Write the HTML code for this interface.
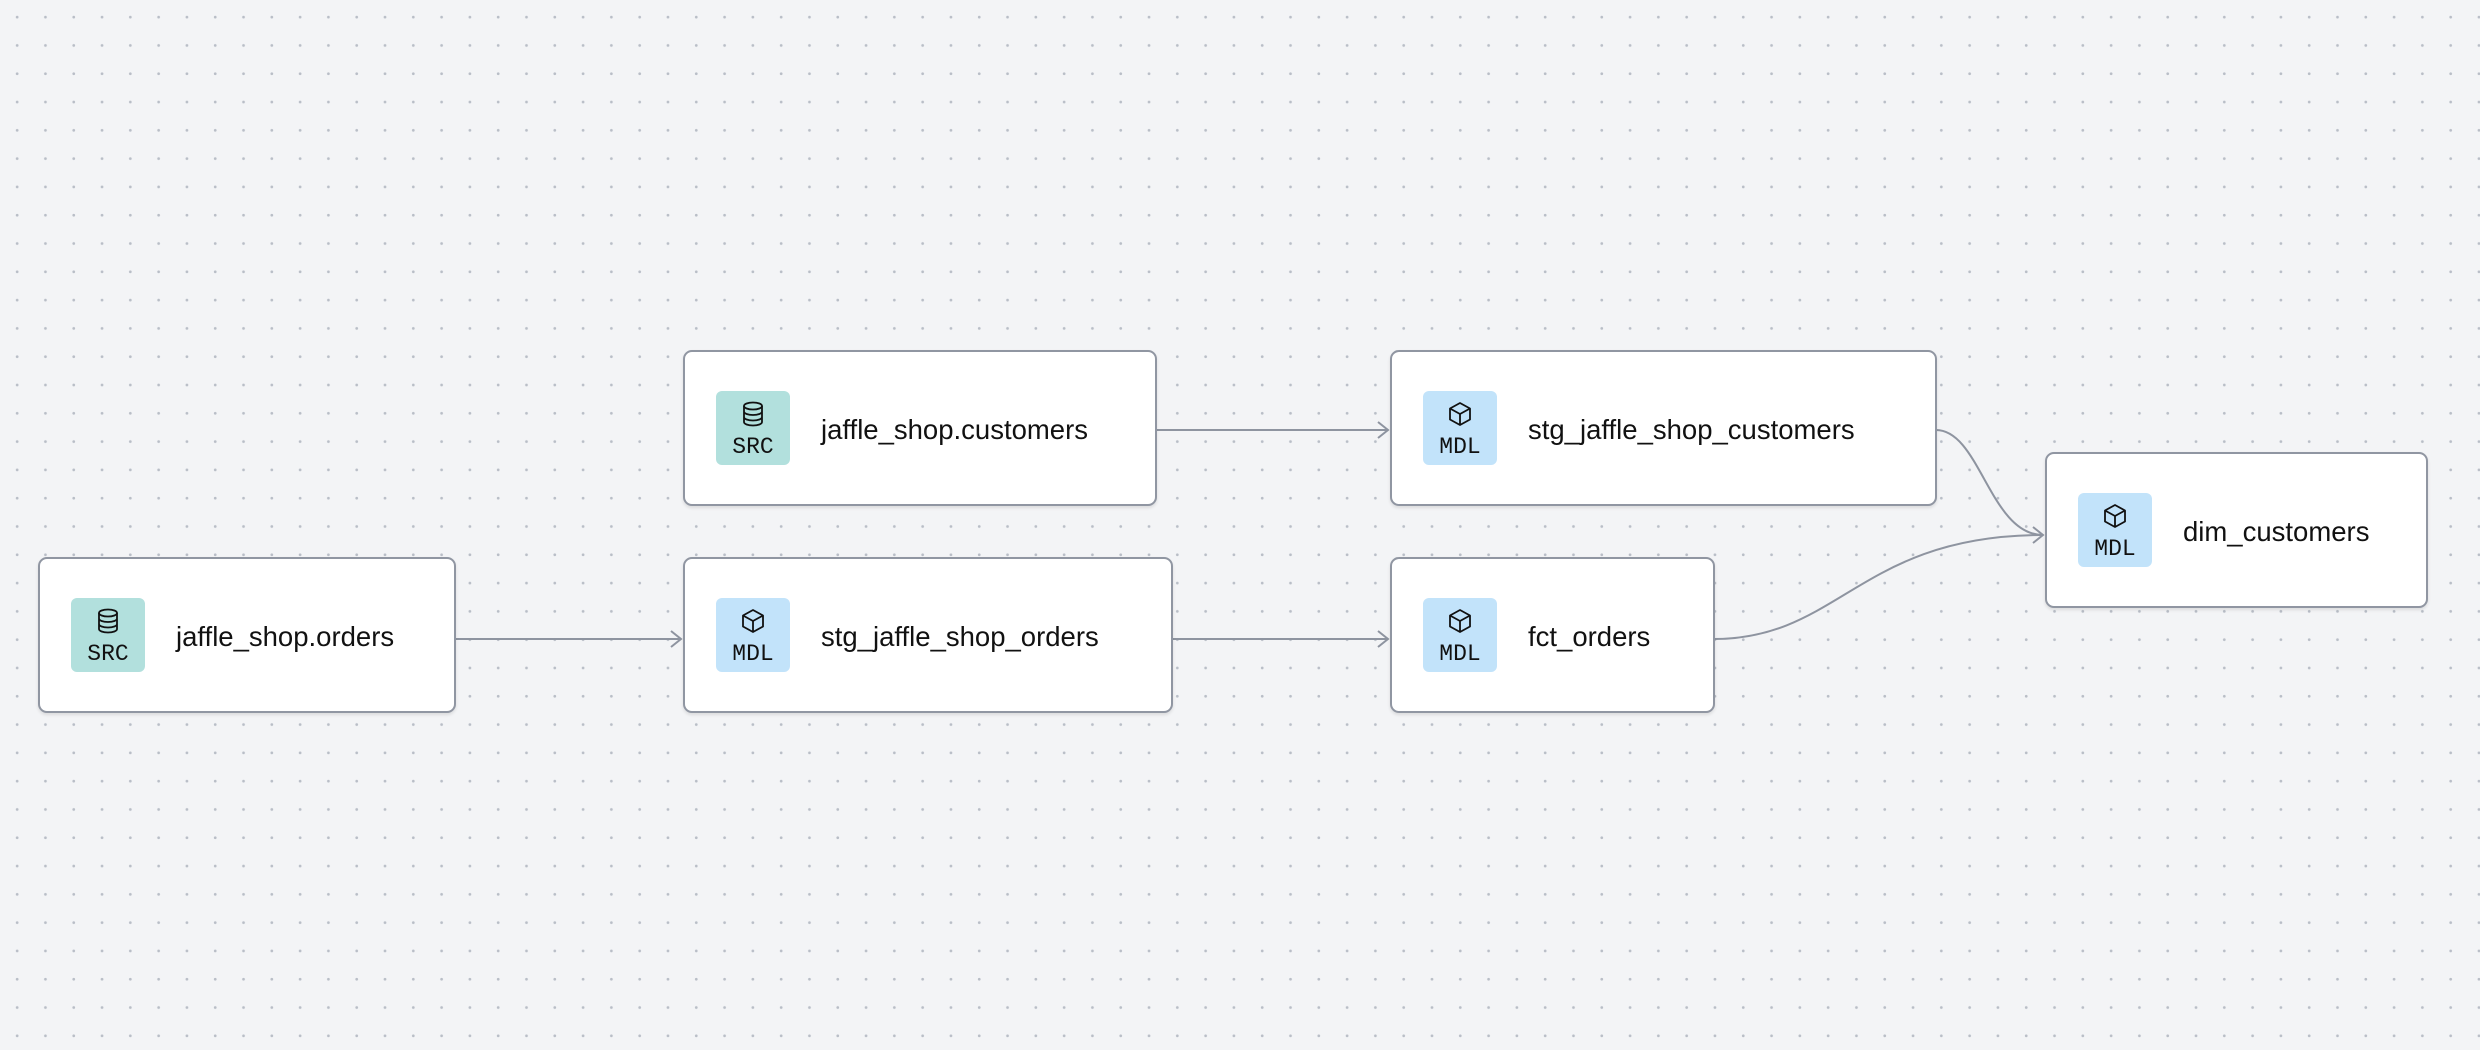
<!DOCTYPE html>
<html><head><meta charset="utf-8"><style>
html,body{margin:0;padding:0}
body{width:2480px;height:1050px;position:relative;overflow:hidden;background-color:#f3f4f6;
background-image:radial-gradient(circle,#b9bec7 1.2px,transparent 1.6px);background-size:28.3px 28.3px;background-position:3px 3px;font-family:"Liberation Sans",sans-serif}
.n{position:absolute;height:156px;background:#fff;border:2px solid #9096a2;border-radius:9px;box-shadow:0 2px 3px rgba(0,0,0,0.1);box-sizing:border-box}
.b{position:absolute;left:31px;top:39px;width:74px;height:74px;border-radius:6px}
.src{background:#b2e0dd}.mdl{background:#c2e3fa}
.b svg{position:absolute;left:25px;top:10px}
.b span{position:absolute;left:0;right:0;top:43px;text-align:center;font-family:"Liberation Mono",monospace;font-size:23px;color:#111}
.l{position:absolute;left:136px;top:2px;line-height:151px;font-size:27.5px;color:#111}
svg.e{position:absolute;left:0;top:0}
</style></head><body>
<svg class="e" width="2480" height="1050"><g fill="none" stroke="#8e94a0" stroke-width="2">
<path d="M1156 430 H1388"/><path d="M1378 422 L1388 430 L1378 438"/>
<path d="M455 639 H681"/><path d="M671 631 L681 639 L671 647"/>
<path d="M1172 639 H1388"/><path d="M1378 631 L1388 639 L1378 647"/>
<path d="M1936 430 C1980 430,1990 535,2043 535"/>
<path d="M1714 639 C1840 639,1860 535,2043 535"/>
<path d="M2033 527 L2043 535 L2033 543"/>
</g></svg>
<div class="n" style="left:38px;top:557px;width:418px"><div class="b src"><svg width="24" height="26" viewBox="0 0 24 26" fill="none" stroke="#111" stroke-width="1.8"><ellipse cx="12" cy="5" rx="9" ry="3.5"/><path d="M3 5v16c0 2 4 3.5 9 3.5s9-1.5 9-3.5V5M3 10.5c0 2 4 3.5 9 3.5s9-1.5 9-3.5M3 16c0 2 4 3.5 9 3.5s9-1.5 9-3.5"/></svg><span>SRC</span></div><div class="l">jaffle_shop.orders</div></div>
<div class="n" style="left:683px;top:350px;width:474px"><div class="b src"><svg width="24" height="26" viewBox="0 0 24 26" fill="none" stroke="#111" stroke-width="1.8"><ellipse cx="12" cy="5" rx="9" ry="3.5"/><path d="M3 5v16c0 2 4 3.5 9 3.5s9-1.5 9-3.5V5M3 10.5c0 2 4 3.5 9 3.5s9-1.5 9-3.5M3 16c0 2 4 3.5 9 3.5s9-1.5 9-3.5"/></svg><span>SRC</span></div><div class="l">jaffle_shop.customers</div></div>
<div class="n" style="left:683px;top:557px;width:490px"><div class="b mdl"><svg width="24" height="26" viewBox="0 0 24 26" fill="none" stroke="#111" stroke-width="1.8" stroke-linejoin="round"><path d="M12 2L22 7.5V18.5L12 24L2 18.5V7.5Z M2 7.5L12 13L22 7.5 M12 13V24"/></svg><span>MDL</span></div><div class="l">stg_jaffle_shop_orders</div></div>
<div class="n" style="left:1390px;top:350px;width:547px"><div class="b mdl"><svg width="24" height="26" viewBox="0 0 24 26" fill="none" stroke="#111" stroke-width="1.8" stroke-linejoin="round"><path d="M12 2L22 7.5V18.5L12 24L2 18.5V7.5Z M2 7.5L12 13L22 7.5 M12 13V24"/></svg><span>MDL</span></div><div class="l">stg_jaffle_shop_customers</div></div>
<div class="n" style="left:1390px;top:557px;width:325px"><div class="b mdl"><svg width="24" height="26" viewBox="0 0 24 26" fill="none" stroke="#111" stroke-width="1.8" stroke-linejoin="round"><path d="M12 2L22 7.5V18.5L12 24L2 18.5V7.5Z M2 7.5L12 13L22 7.5 M12 13V24"/></svg><span>MDL</span></div><div class="l">fct_orders</div></div>
<div class="n" style="left:2045px;top:452px;width:383px"><div class="b mdl"><svg width="24" height="26" viewBox="0 0 24 26" fill="none" stroke="#111" stroke-width="1.8" stroke-linejoin="round"><path d="M12 2L22 7.5V18.5L12 24L2 18.5V7.5Z M2 7.5L12 13L22 7.5 M12 13V24"/></svg><span>MDL</span></div><div class="l">dim_customers</div></div>
</body></html>
